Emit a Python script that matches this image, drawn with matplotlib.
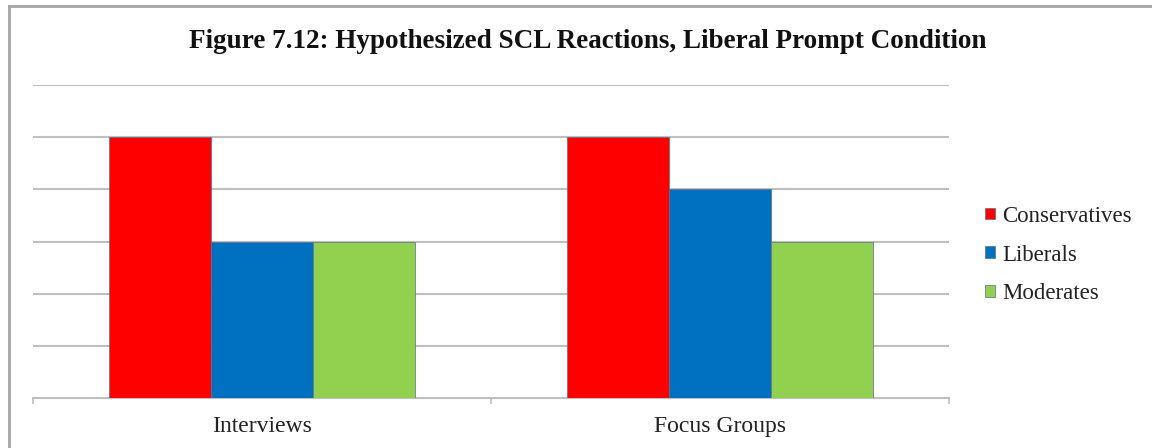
import numpy as np
import matplotlib
matplotlib.use("Agg")
import matplotlib.pyplot as plt
from matplotlib.lines import Line2D

categories = ["Interviews", "Focus Groups"]
series_names = ["Conservatives", "Liberals", "Moderates"]
conservatives = [5, 5]
liberals = [3, 4]
moderates = [3, 3]
colors = ["#FF0000", "#0070C0", "#92D050"]

plt.rcParams["font.family"] = ["Liberation Serif", "DejaVu Serif"]

fig = plt.figure(figsize=(11.52, 4.48), dpi=100)
ax = fig.add_axes([33 / 1152, 1 - 398 / 448, (949 - 33) / 1152, (398 - 85) / 448])

x = np.arange(len(categories))
width = 0.223
for i, (vals, name) in enumerate(zip([conservatives, liberals, moderates], series_names)):
    ax.bar(x + (i - 1) * width, vals, width, color=colors[i], label=name,
           edgecolor="#5a6f8a", linewidth=0.5, zorder=3)

ax.set_xlim(-0.5, 1.5)
ax.set_ylim(0, 6)
ax.set_yticks(np.arange(1, 7))
ax.set_yticklabels([])
ax.grid(axis="y", color="#BFBFBF", linewidth=1.5, zorder=0)
ax.tick_params(axis="y", length=0)
ax.set_xticks(x)
ax.set_xticklabels(categories, fontsize=17, color="#222222")
ax.set_xticks([-0.5, 0.5, 1.5], minor=True)
ax.tick_params(axis="x", which="major", length=0, pad=13)
ax.tick_params(axis="x", which="minor", length=4, color="#BFBFBF", width=1.2)
for s in ["top", "right", "left"]:
    ax.spines[s].set_visible(False)
ax.spines["bottom"].set_color("#BFBFBF")
ax.spines["bottom"].set_linewidth(1.5)

leg = fig.legend(loc="center left", bbox_to_anchor=(985 / 1152, 1 - 255 / 448),
                 frameon=False, fontsize=16.5, handlelength=0.45, handleheight=0.42,
                 handletextpad=0.3, labelspacing=0.78, borderpad=0, borderaxespad=0)
for t in leg.get_texts():
    t.set_color("#222222")

fig.text(588 / 1152, 1 - 42 / 448, "Figure 7.12: Hypothesized SCL Reactions, Liberal Prompt Condition",
         ha="center", va="center", fontsize=19.5, fontweight="bold", color="#111111")

# outer chart frame (only top and left edges visible in the crop)
fig.add_artist(Line2D([9 / 1152, 1], [1 - 6 / 448, 1 - 6 / 448], transform=fig.transFigure,
                      color="#A6A6A6", linewidth=2))
fig.add_artist(Line2D([9 / 1152, 9 / 1152], [0, 1 - 6 / 448], transform=fig.transFigure,
                      color="#A6A6A6", linewidth=2))

fig.savefig("out.png", dpi=100)
